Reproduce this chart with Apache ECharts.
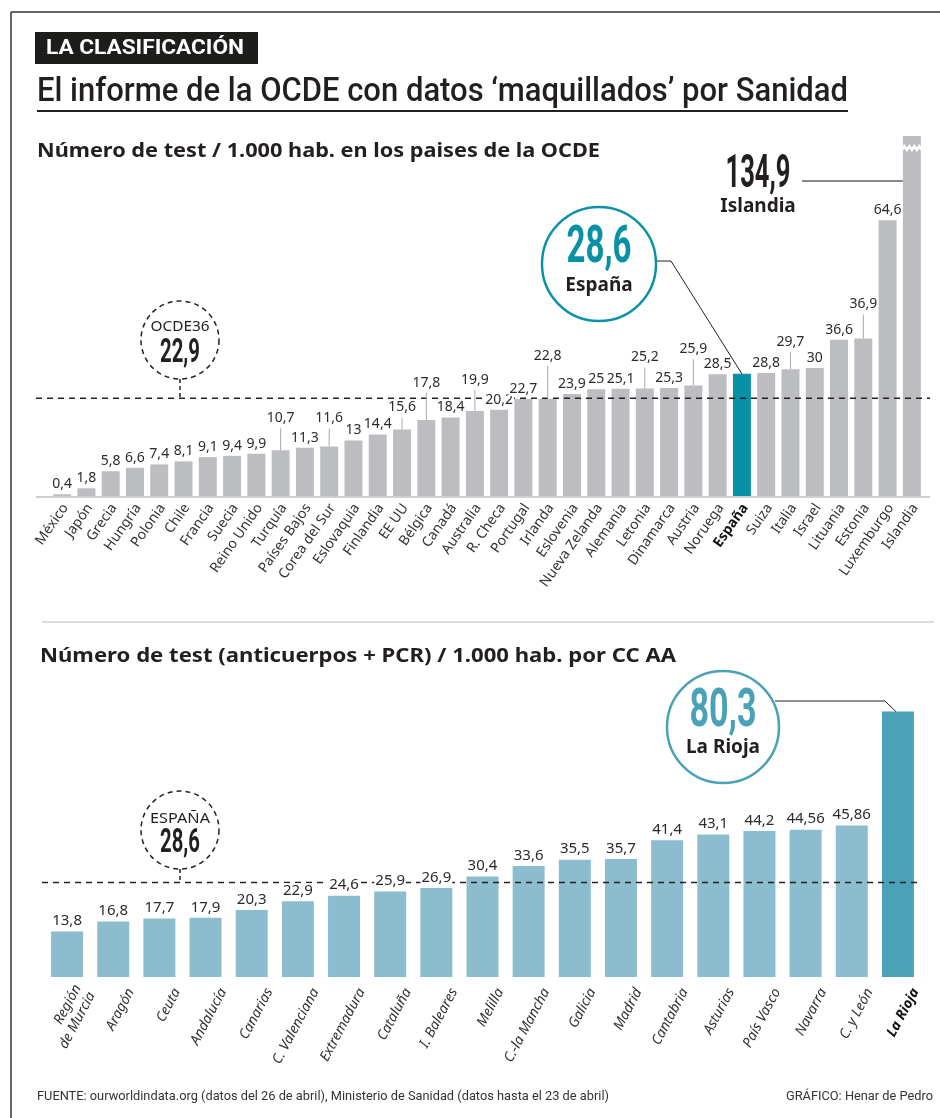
<!DOCTYPE html>
<html>
<head>
<meta charset="utf-8">
<script src="https://cdn.jsdelivr.net/npm/echarts@6/dist/echarts.min.js"></script>
<style>
html, body { margin: 0; padding: 0; background: #fff; }
#main { width: 940px; height: 1118px; }
</style>
</head>
<body>
<div id="main"></div>
<script>
// datos OCDE (test / 1.000 hab.)
var paises = ["México", "Japón", "Grecia", "Hungría", "Polonia", "Chile", "Francia", "Suecia", "Reino Unido", "Turquía",
	"Países Bajos", "Corea del Sur", "Eslovaquia", "Finlandia", "EE UU", "Bélgica", "Canadá", "Australia", "R. Checa",
	"Portugal", "Irlanda", "Eslovenia", "Nueva Zelanda", "Alemania", "Letonia", "Dinamarca", "Austria", "Noruega",
	"España", "Suiza", "Italia", "Israel", "Lituania", "Estonia", "Luxemburgo", "Islandia"];
var testsOcde = [0.4, 1.8, 5.8, 6.6, 7.4, 8.1, 9.1, 9.4, 9.9, 10.7,
	11.3, 11.6, 13, 14.4, 15.6, 17.8, 18.4, 19.9, 20.2,
	22.7, 22.8, 23.9, 25, 25.1, 25.2, 25.3, 25.9, 28.5,
	28.6, 28.8, 29.7, 30, 36.6, 36.9, 64.6, 134.9];
var mediaOcde = 22.9;

// datos CC AA
var ccaa = ["Región\nde Murcia", "Aragón", "Ceuta", "Andalucía", "Canarias", "C. Valenciana", "Extremadura", "Cataluña",
	"I. Baleares", "Melilla", "C.-la Mancha", "Galicia", "Madrid", "Cantabria", "Asturias", "País Vasco", "Navarra",
	"C. y León", "La Rioja"];
var testsCcaa = [13.8, 16.8, 17.7, 17.9, 20.3, 22.9, 24.6, 25.9, 26.9, 30.4, 33.6, 35.5, 35.7, 41.4, 43.1, 44.2, 44.56, 45.86, 80.3];
var mediaEspana = 28.6;

// etiquetas que suben con línea guía (px)
var subida = { "Turquía": 22, "Corea del Sur": 18, "EE UU": 12, "Bélgica": 27, "Australia": 21,
	"Irlanda": 33, "Letonia": 21, "Austria": 26, "Italia": 17, "Estonia": 24 };

var FONT = "'Noto Sans', sans-serif";
var COND = "Roboto, sans-serif";
var INK = "#231f20";

function coma(v) {
	return String(v).replace(".", ",");
}

var ctx = document.createElement("canvas").getContext("2d");
function escala(text, font, ancho) {
	ctx.font = font;
	return ancho / ctx.measureText(text).width;
}

function etiquetas(cats, ocultar, size) {
	return function (params, api) {
		var i = api.value(0);
		var v = api.value(1);
		if (ocultar.indexOf(cats[i]) >= 0) return null;
		var p = api.coord([i, v]);
		var lift = subida[cats[i]] || 0;
		var children = [];
		if (lift) {
			children.push({
				type: "line",
				shape: { x1: p[0], y1: p[1], x2: p[0], y2: p[1] - lift },
				style: { stroke: "#a8a8a8", lineWidth: 1 }
			});
		}
		children.push({
			type: "text",
			x: p[0],
			y: p[1] - 3 - lift,
			style: {
				text: coma(v),
				fill: "#2b2b2b",
				font: size + "px " + FONT,
				align: "center",
				verticalAlign: "bottom",
				backgroundColor: "#fff",
				padding: [0, 1, 0, 1]
			}
		});
		return { type: "group", children: children };
	};
}

var chart = echarts.init(document.getElementById("main"), null, {
	renderer: "canvas",
	useDirtyRect: false
});

var option = {
	animation: false,
	backgroundColor: "#fff",
	grid: [
		{ left: 50, right: 16, top: 136, bottom: 622 },
		{ left: 44, right: 19, top: 696, bottom: 141 }
	],
	xAxis: [
		{
			type: "category",
			gridIndex: 0,
			data: paises,
			axisLine: { show: false },
			axisTick: { show: false },
			axisLabel: {
				rotate: 55,
				margin: 7,
				interval: 0,
				color: "#333",
				fontSize: 14,
				fontFamily: FONT,
				verticalAlign: "middle",
				padding: [8, 0, 0, 0],
				formatter: function (v) {
					return v === "España" ? "{b|" + v + "}" : v;
				},
				rich: {
					b: { fontWeight: "bold", fontSize: 14, fontFamily: FONT, color: "#111" }
				}
			}
		},
		{
			type: "category",
			gridIndex: 1,
			data: ccaa,
			axisLine: { show: false },
			axisTick: { show: false },
			axisLabel: {
				rotate: 62,
				margin: 3,
				interval: 0,
				color: "#333",
				fontSize: 14,
				fontStyle: "italic",
				fontFamily: FONT,
				lineHeight: 16,
				verticalAlign: "middle",
				padding: [40, 0, 0, 0],
				formatter: function (v) {
					return v === "La Rioja" ? "{b|" + v + "}" : v;
				},
				rich: {
					b: { fontWeight: "bold", fontStyle: "italic", fontSize: 14, fontFamily: FONT, color: "#111" }
				}
			}
		}
	],
	yAxis: [
		{ type: "value", gridIndex: 0, min: 0, max: 84.3, show: false, splitLine: { show: false } },
		{ type: "value", gridIndex: 1, min: 0, max: 85, show: false, splitLine: { show: false } }
	],
	series: [
		{
			type: "bar",
			xAxisIndex: 0,
			yAxisIndex: 0,
			barWidth: 18,
			clip: true,
			z: 2,
			itemStyle: { color: "#bcbdc1" },
			data: testsOcde.map(function (v, i) {
				return paises[i] === "España" ? { value: v, itemStyle: { color: "#0891a6" } } : v;
			})
		},
		{
			type: "bar",
			xAxisIndex: 1,
			yAxisIndex: 1,
			barWidth: 32,
			z: 2,
			itemStyle: { color: "#8bbdce" },
			data: testsCcaa.map(function (v, i) {
				return ccaa[i] === "La Rioja" ? { value: v, itemStyle: { color: "#4ba1b8" } } : v;
			})
		},
		{
			type: "custom",
			xAxisIndex: 0,
			yAxisIndex: 0,
			z: 10,
			clip: false,
			renderItem: etiquetas(paises, ["España", "Islandia"], 14),
			data: testsOcde.map(function (v, i) { return [i, v]; })
		},
		{
			type: "custom",
			xAxisIndex: 1,
			yAxisIndex: 1,
			z: 10,
			clip: false,
			renderItem: etiquetas(ccaa, ["La Rioja"], 15),
			data: testsCcaa.map(function (v, i) { return [i, v]; })
		}
	]
};
chart.setOption(option);

// posiciones a partir de las escalas
function px0(i, v) { return chart.convertToPixel({ xAxisIndex: 0, yAxisIndex: 0 }, [i, v]); }
function px1(i, v) { return chart.convertToPixel({ xAxisIndex: 1, yAxisIndex: 1 }, [i, v]); }

var base0 = px0(0, 0)[1];
var media0 = px0(0, mediaOcde)[1];
var media1 = px1(0, mediaEspana)[1];
var iEsp = paises.indexOf("España");
var esp = px0(iEsp, testsOcde[iEsp]);
var iIsl = paises.indexOf("Islandia");
var isl = px0(iIsl, 84.3);
var iRio = ccaa.indexOf("La Rioja");
var rio = px1(iRio, testsCcaa[iRio]);

function texto(t, x, y, font, fill, align, ancho, z) {
	return {
		type: "text",
		x: x,
		y: y,
		z: z || 20,
		scaleX: ancho ? escala(t, font, ancho) : 1,
		style: { text: t, font: font, fill: fill, align: align || "left", verticalAlign: "middle" }
	};
}
function linea(x1, y1, x2, y2, color, w, dash, z) {
	return {
		type: "line",
		z: z || 20,
		shape: { x1: x1, y1: y1, x2: x2, y2: y2 },
		style: { stroke: color, lineWidth: w, lineDash: dash || null }
	};
}
function circulo(cx, cy, r, color, w, dash) {
	return {
		type: "circle",
		z: 20,
		shape: { cx: cx, cy: cy, r: r },
		style: { fill: "#fff", stroke: color, lineWidth: w, lineDash: dash || null }
	};
}

// zigzag de corte en Islandia
var zig = [];
for (var k = 0; k <= 8; k++) {
	zig.push([isl[0] - 10 + k * 2.5, isl[1] + 12 + (k % 2 ? -2 : 2)]);
}

var tituloFont = "500 34px " + COND;
var g = [
	// marco
	linea(11, 12, 940, 12, "#333", 1.5),
	linea(11, 12, 11, 1118, "#333", 1.5),
	// cabecera
	{ type: "rect", z: 20, shape: { x: 35, y: 32, width: 223, height: 32 }, style: { fill: "#1d1d1b" } },
	texto("LA CLASIFICACIÓN", 46, 49, "bold 21px " + COND, "#fff", "left", 198),
	texto("El informe de la OCDE con datos ‘maquillados’ por Sanidad", 37, 92, tituloFont, INK, "left", 811),
	linea(37, 111, 848, 111, INK, 2),
	texto("Número de test / 1.000 hab. en los paises de la OCDE", 37, 152, "bold 19px " + FONT, INK, "left", 563),
	linea(42, 622, 934, 622, "#cfcfcf", 1.5),
	texto("Número de test (anticuerpos + PCR) / 1.000 hab. por CC AA", 40, 657, "bold 19px " + FONT, INK, "left", 636),
	// eje y medias
	linea(36, base0 + 1, 930, base0 + 1, "#cfcfcf", 2, null, 3),
	linea(36, media0, 930, media0, "#222", 1.5, [6, 5], 3),
	linea(42, media1, 920, media1, "#222", 1.5, [6, 5], 3),
	// OCDE36
	linea(180, 379, 180, media0, "#222", 1.5, [4, 3]),
	circulo(180, 340, 39, "#222", 1.5, [5, 4]),
	texto("OCDE36", 180, 327, "15px " + FONT, INK, "center", 59),
	texto("22,9", 180, 353, "bold 34px " + COND, INK, "center", 40),
	// España
	{ type: "polyline", z: 19, shape: { points: [[657, 261], [671, 261], [esp[0], esp[1]]] }, style: { stroke: "#222", lineWidth: 1, fill: null } },
	circulo(599, 264, 57, "#0a93a8", 2.5),
	texto("28,6", 599, 249, "bold 52px " + COND, "#0891a6", "center", 65),
	texto("España", 599, 286, "bold 19px " + FONT, INK, "center"),
	// Islandia
	{ type: "polyline", z: 20, shape: { points: zig }, style: { stroke: "#fff", lineWidth: 2.5, fill: null } },
	linea(802, 181, isl[0] - 9, 181, "#888", 2),
	texto("134,9", 758, 175, "bold 46px " + COND, INK, "center", 65),
	texto("Islandia", 758, 207, "bold 19px " + FONT, INK, "center"),
	// ESPAÑA media
	linea(180, 869, 180, media1, "#222", 1.5, [4, 3]),
	circulo(180, 830, 39, "#222", 1.5, [5, 4]),
	texto("ESPAÑA", 180, 819, "15px " + FONT, INK, "center", 60),
	texto("28,6", 180, 843, "bold 34px " + COND, INK, "center", 40),
	// La Rioja
	{ type: "polyline", z: 19, shape: { points: [[775, 701], [rio[0] - 13, 701], [rio[0] - 2, rio[1]]] }, style: { stroke: "#222", lineWidth: 1, fill: null } },
	circulo(723, 727, 56, "#4ba1b8", 2.5),
	texto("80,3", 723, 712, "bold 54px " + COND, "#4ba1b8", "center", 67),
	texto("La Rioja", 723, 748, "bold 19px " + FONT, INK, "center"),
	// pie
	texto("FUENTE: ourworldindata.org (datos del 26 de abril), Ministerio de Sanidad (datos hasta el 23 de abril)", 37, 1097, "13px " + COND, "#333", "left", 572),
	texto("GRÁFICO: Henar de Pedro", 933, 1097, "13px " + COND, "#333", "right", 147)
];

chart.setOption({ graphic: g });
window.addEventListener("resize", chart.resize);
</script>
</body>
</html>
